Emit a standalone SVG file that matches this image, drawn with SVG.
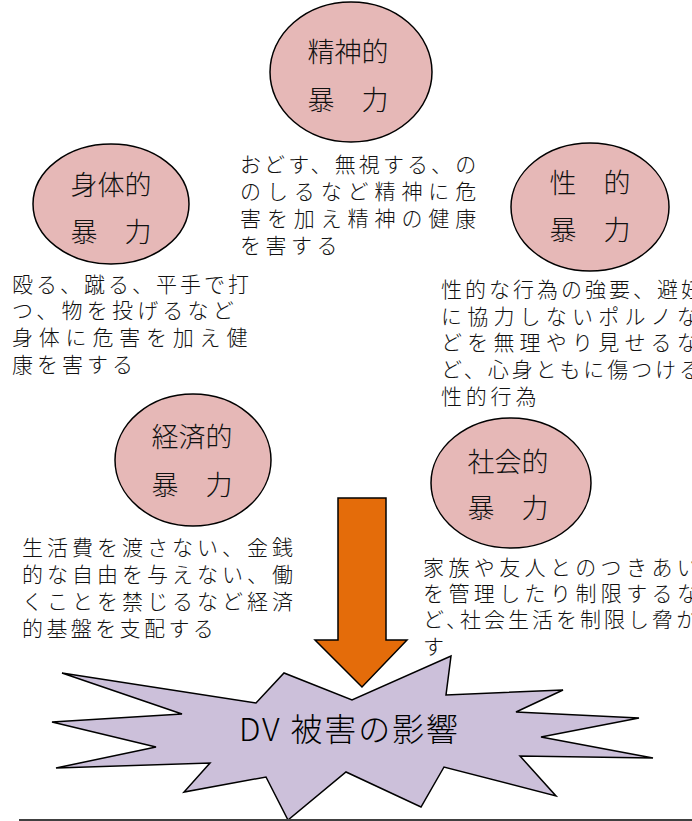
<svg xmlns="http://www.w3.org/2000/svg" width="692" height="821" viewBox="0 0 692 821">
<style>
.bg{fill:#ffffff}
.oval{fill:#E6B8B7;stroke:#000;stroke-width:1.5}
.lbl{font-family:"Noto Sans CJK JP","Noto Sans CJK SC",sans-serif;font-size:27px;font-weight:300;fill:#111;text-anchor:middle}
.desc{font-family:"Noto Sans CJK JP","Noto Sans CJK SC",sans-serif;font-size:21px;font-weight:300;fill:#111}
.star{fill:#CCC0DA;stroke:#000;stroke-width:1.5;stroke-linejoin:miter}
.arrow{fill:#E46C0A;stroke:#000;stroke-width:1.5}
.title{font-family:"Noto Sans CJK JP","Noto Sans CJK SC",sans-serif;font-size:32px;font-weight:300;fill:#000}
</style>
<rect class="bg" x="0" y="0" width="692" height="821"/>

<g id="node-seishin">
<ellipse class="oval" cx="351" cy="72" rx="81" ry="70"/>
<text class="lbl" x="348" y="62">精神的</text>
<text class="lbl" x="348" y="110">暴　力</text>
<text class="desc"><tspan x="240" y="172" style="letter-spacing:3.1px">おどす、無視する、の</tspan><tspan x="240" y="199" style="letter-spacing:5.9px">のしるなど精神に危</tspan><tspan x="240" y="226" style="letter-spacing:5.9px">害を加え精神の健康</tspan><tspan x="240" y="253" style="letter-spacing:4.5px">を害する</tspan></text>
</g>

<g id="node-shintai">
<ellipse class="oval" cx="111" cy="204" rx="78" ry="60"/>
<text class="lbl" x="111" y="195">身体的</text>
<text class="lbl" x="111" y="242">暴　力</text>
<text class="desc"><tspan x="12" y="292" style="letter-spacing:3px">殴る、蹴る、平手で打</tspan><tspan x="12" y="318" style="letter-spacing:4.2px">つ、物を投げるなど</tspan><tspan x="12" y="345" style="letter-spacing:5.8px">身体に危害を加え健</tspan><tspan x="12" y="372" style="letter-spacing:4px">康を害する</tspan></text>
</g>

<g id="node-sei">
<ellipse class="oval" cx="590" cy="207" rx="79" ry="64"/>
<text class="lbl" x="590" y="193">性　的</text>
<text class="lbl" x="590" y="240">暴　力</text>
<text class="desc"><tspan x="441" y="297" style="letter-spacing:3px">性的な行為の強要、避妊</tspan><tspan x="441" y="324" style="letter-spacing:5.2px">に協力しないポルノな</tspan><tspan x="441" y="350" style="letter-spacing:5.2px">どを無理やり見せるな</tspan><tspan x="441" y="377" style="letter-spacing:2.9px">ど、心身ともに傷つける</tspan><tspan x="441" y="404" style="letter-spacing:3.8px">性的行為</tspan></text>
</g>

<g id="node-keizai">
<ellipse class="oval" cx="193" cy="460" rx="78" ry="66"/>
<text class="lbl" x="192" y="447">経済的</text>
<text class="lbl" x="192" y="495">暴　力</text>
<text class="desc"><tspan x="22" y="555" style="letter-spacing:4px">生活費を渡さない、金銭</tspan><tspan x="22" y="582" style="letter-spacing:4px">的な自由を与えない、働</tspan><tspan x="22" y="609" style="letter-spacing:4px">くことを禁じるなど経済</tspan><tspan x="22" y="636" style="letter-spacing:3.4px">的基盤を支配する</tspan></text>
</g>

<g id="node-shakai">
<ellipse class="oval" cx="511" cy="483" rx="80" ry="65"/>
<text class="lbl" x="508" y="472">社会的</text>
<text class="lbl" x="508" y="518">暴　力</text>
<text class="desc"><tspan x="423" y="575" style="letter-spacing:4.4px">家族や友人とのつきあい</tspan><tspan x="423" y="601" style="letter-spacing:4.4px">を管理したり制限するな</tspan><tspan x="423" y="627" style="letter-spacing:3px">ど、</tspan><tspan dx="-10" style="letter-spacing:3px">社会生活を制限し脅か</tspan><tspan x="423" y="654">す</tspan></text>
</g>

<g id="node-impact">
<polygon class="star" points="62,673 256,703 284,673 352,700 451,656 446,695 563,690 516,712 639,718 541,737 653,758 520,756 556,796 444,767 421,807 346,772 288,820 266,777 184,792 210,763 56,768 156,747 52,722 182,714"/>
<text class="title" x="239" y="741" textLength="219" lengthAdjust="spacing">DV 被害の影響</text>
</g>

<g id="connectors">
<polygon class="arrow" points="338,498 386,498 386,640 407,640 362,687 315,640 338,640"/>
<line x1="19" y1="820" x2="692" y2="820" stroke="#404040" stroke-width="2"/>
</g>
</svg>
